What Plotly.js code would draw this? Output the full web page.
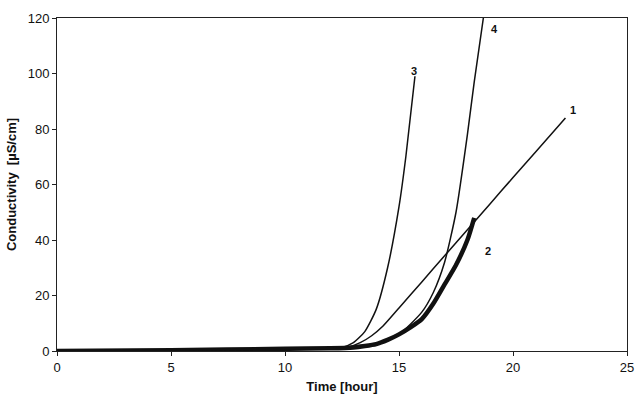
<!DOCTYPE html>
<html>
<head>
<script src="https://cdn.plot.ly/plotly-3.0.1.min.js"></script>
<style>body{margin:0;background:#fff}</style>
</head>
<body>
<div id="chart" style="width:636px;height:405px"></div>
<script>
// curve 1
let x1 = [0, 5, 10, 12, 12.8, 13.3, 13.8, 14.3, 15, 16, 17, 18, 19, 20, 21, 22.3];
let y1 = [0, 0.3, 0.8, 1, 1.5, 3, 5.5, 9, 15.5, 24.9, 34.3, 43.7, 53.1, 62.5, 71.8, 84];
// curve 2 (thick)
let x2 = [0, 5, 10, 12, 13, 13.5, 14, 14.5, 15, 15.5, 16, 16.5, 17, 17.5, 18, 18.3];
let y2 = [0, 0.3, 0.8, 1, 1.3, 1.8, 2.5, 4, 6, 8.5, 11.5, 17, 24, 31, 40, 48];
// curve 3
let x3 = [0, 5, 10, 12, 12.5, 13, 13.5, 14, 14.5, 15, 15.3, 15.7];
let y3 = [0, 0.3, 0.8, 1, 1.3, 3, 7, 15, 30, 52, 70, 99];
// curve 4
let x4 = [0, 5, 10, 12, 13, 13.5, 14, 15, 16, 16.5, 17, 17.5, 18, 18.3, 18.7];
let y4 = [0, 0.3, 0.8, 1, 1.2, 1.6, 2.5, 6, 14, 21, 32, 50, 78, 97, 120];

let labelX = [22.4, 18.7, 15.45, 18.95];
let labelY = [87, 36, 101, 116];
let labelT = ['1', '2', '3', '4'];

let line = w => ({color: '#111', width: w, shape: 'spline', smoothing: 0.6});
let data = [
  {x: x1, y: y1, mode: 'lines', line: line(1.5)},
  {x: x2, y: y2, mode: 'lines', line: line(4.5)},
  {x: x3, y: y3, mode: 'lines', line: line(1.5)},
  {x: x4, y: y4, mode: 'lines', line: line(1.5)}
];

let font = {family: 'Liberation Sans, Arial', size: 13, color: '#111'};
let layout = {
  width: 636, height: 405,
  margin: {l: 57, r: 9, t: 18, b: 54},
  showlegend: false,
  plot_bgcolor: '#fff', paper_bgcolor: '#fff',
  font: font,
  xaxis: {range: [0, 25], dtick: 5, showgrid: false, zeroline: false,
    showline: true, mirror: true, linecolor: '#222', linewidth: 1,
    ticks: 'outside', ticklen: 4, tickcolor: '#222',
    title: {text: '<b>Time [hour]</b>', font: font, standoff: 8}},
  yaxis: {range: [0, 120], dtick: 20, showgrid: false, zeroline: false,
    showline: true, mirror: true, linecolor: '#222', linewidth: 1,
    ticks: 'outside', ticklen: 4, tickcolor: '#222',
    title: {text: '<b>Conductivity  [µS/cm]</b>', font: font, standoff: 8}},
  annotations: labelT.map((t, i) => ({x: labelX[i], y: labelY[i], text: '<b>' + t + '</b>',
    showarrow: false, xanchor: 'left', font: {family: 'Liberation Sans, Arial', size: 11, color: '#111'}}))
};
Plotly.newPlot('chart', data, layout, {displayModeBar: false});
</script>
</body>
</html>
